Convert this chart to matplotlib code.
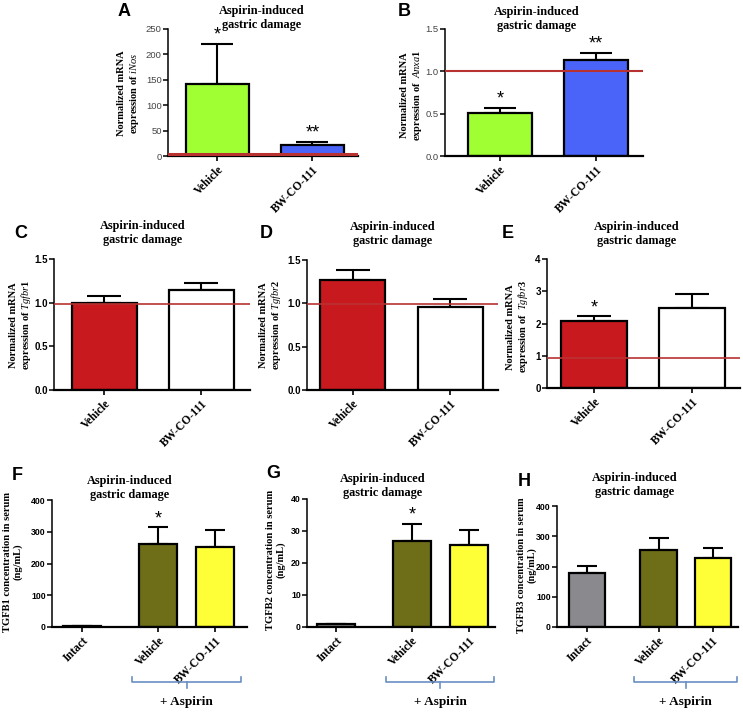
"""
Aspirin-induced gastric damage: 8 bar panels (A-H)
"""

import numpy as np
import matplotlib.pyplot as plt

plt.rcParams["font.family"] = ["Liberation Serif", "DejaVu Serif"]
plt.rcParams["mathtext.fontset"] = "custom"
plt.rcParams["mathtext.rm"] = "Liberation Serif:bold"
plt.rcParams["mathtext.it"] = "Liberation Serif:italic"

# ---- data ----
groups2 = ["Vehicle", "BW-CO-111"]
groups3 = ["Intact", "Vehicle", "BW-CO-111"]

inos_mean = [141, 22]
inos_err = [79, 5]
anxa1_mean = [0.51, 1.13]
anxa1_err = [0.06, 0.09]
tgfbr1_mean = [1.0, 1.14]
tgfbr1_err = [0.08, 0.08]
tgfbr2_mean = [1.27, 0.96]
tgfbr2_err = [0.11, 0.09]
tgfbr3_mean = [2.08, 2.48]
tgfbr3_err = [0.14, 0.42]
tgfb1_mean = [3, 261, 253]
tgfb1_err = [0, 53, 54]
tgfb2_mean = [0.8, 26.9, 25.6]
tgfb2_err = [0, 5.3, 4.7]
tgfb3_mean = [180, 254, 229]
tgfb3_err = [23, 41, 32]

# reference (normalized control) line levels
ref_level = {"A": 3, "B": 1.0, "C": 0.98, "D": 0.99, "E": 0.93}

green = "#a0ff32"
blue = "#4a64fa"
red_bar = "#c8191e"
olive = "#6e6e19"
yellow = "#ffff37"
grey = "#8a8a8e"
line_red = "#b93232"
bracket_blue = "#6b8fc4"

W, H = 743, 715
fig = plt.figure(figsize=(W / 100, H / 100), dpi=100)


def px_axes(left, top, right, bottom):
    ax = fig.add_axes([left / W, 1 - bottom / H, (right - left) / W, (bottom - top) / H])
    ax.px_height = bottom - top
    return ax


def style(ax, yticks, bold_ticks=True, tick_size=7):
    for s in ["top", "right"]:
        ax.spines[s].set_visible(False)
    ax.spines["left"].set_linewidth(1.1)
    ax.spines["bottom"].set_linewidth(1.6)
    ax.set_yticks(yticks)
    ax.set_ylim(yticks[0], yticks[-1])
    ax.tick_params(axis="y", length=3.5, width=1.1, pad=1)
    ax.tick_params(axis="x", length=3.5, width=1.2, pad=2)
    for lab in ax.get_yticklabels():
        lab.set_family("Liberation Sans")
        lab.set_fontsize(tick_size)
        lab.set_fontweight("bold" if bold_ticks else "normal")
        if not bold_ticks:
            lab.set_color("#444444")


def bars(ax, pos, means, errs, colors, width, cap):
    ax.bar(pos, means, width=width, color=colors, edgecolor="black", linewidth=1.6, zorder=2)
    ax.errorbar(pos, means, yerr=[np.zeros(len(errs)), errs], fmt="none",
                ecolor="black", elinewidth=1.5, capsize=cap, capthick=1.5, zorder=1)


def xlabels(ax, pos, labels):
    ax.set_xticks(pos)
    ax.set_xticklabels(labels, rotation=45, ha="right", rotation_mode="anchor",
                       fontsize=8.4, fontweight="bold")


def star(ax, x, y, text, pad):
    ax.text(x, y + pad, text, ha="center", va="bottom", family="Liberation Sans",
            fontsize=13, zorder=4)


def title(cx, cy):
    fig.text(cx / W, 1 - cy / H, "Aspirin-induced\ngastric damage", ha="center", va="center",
             fontsize=8.8, fontweight="bold", linespacing=1.15)


def letter(x, y, s):
    fig.text(x / W, 1 - y / H, s, ha="left", va="center", family="Liberation Sans",
             fontsize=13, fontweight="bold")


def ylab(cx, cy, s, size=7.5):
    fig.text(cx / W, 1 - cy / H, s, ha="center", va="center", rotation=90,
             fontsize=size, fontweight="bold", linespacing=1.15)


pos2 = np.arange(2)
pos3 = np.array([0, 1.33, 2.33])

# ---- A ----
ax = px_axes(168, 29, 358, 156)
bars(ax, pos2, inos_mean, inos_err, [green, blue], 0.67, 11.5)
ax.axhline(ref_level["A"], color=line_red, lw=2.2, zorder=3)
ax.set_xlim(-0.52, 1.48)
style(ax, [0, 50, 100, 150, 200, 250], bold_ticks=False, tick_size=6.8)
xlabels(ax, pos2, groups2)
star(ax, 0, inos_mean[0] + inos_err[0], "*", 1)
star(ax, 1, inos_mean[1] + inos_err[1], "**", 1)
title(262, 18)
letter(118, 12, "A")
ylab(129, 93, "Normalized mRNA\nexpression of $\\mathit{iNos}$")

# ---- B ----
ax = px_axes(445, 29, 643, 156)
bars(ax, pos2, anxa1_mean, anxa1_err, [green, blue], 0.67, 11.5)
ax.axhline(ref_level["B"], color=line_red, lw=1.5, zorder=3)
ax.set_xlim(-0.57, 1.49)
style(ax, [0, 0.5, 1.0, 1.5], bold_ticks=False, tick_size=6.8)
ax.set_yticklabels(["0.0", "0.5", "1.0", "1.5"])
xlabels(ax, pos2, groups2)
star(ax, 0, anxa1_mean[0] + anxa1_err[0], "*", 0.0)
star(ax, 1, anxa1_mean[1] + anxa1_err[1], "**", 0.0)
title(537, 19)
letter(398, 12, "B")
ylab(412, 95, "Normalized mRNA\nexpression of  $\\mathit{Anxa1}$")

# ---- C ----
ax = px_axes(54, 259, 250, 390)
bars(ax, pos2, tgfbr1_mean, tgfbr1_err, [red_bar, "white"], 0.67, 12)
ax.axhline(ref_level["C"], color=line_red, lw=1.2, zorder=3)
ax.set_xlim(-0.52, 1.5)
style(ax, [0, 0.5, 1.0, 1.5])
ax.set_yticklabels(["0.0", "0.5", "1.0", "1.5"])
xlabels(ax, pos2, groups2)
title(143, 233)
letter(14, 234, "C")
ylab(21, 325, "Normalized mRNA\nexpression of $\\mathit{Tgfbr1}$")

# ---- D ----
ax = px_axes(307, 260, 498, 390)
bars(ax, pos2, tgfbr2_mean, tgfbr2_err, [red_bar, "white"], 0.67, 12)
ax.axhline(ref_level["D"], color=line_red, lw=1.2, zorder=3)
ax.set_xlim(-0.47, 1.49)
style(ax, [0, 0.5, 1.0, 1.5])
ax.set_yticklabels(["0.0", "0.5", "1.0", "1.5"])
xlabels(ax, pos2, groups2)
title(393, 234)
letter(260, 234, "D")
ylab(271, 325, "Normalized mRNA\nexpression of $\\mathit{Tgfbr2}$")

# ---- E ----
ax = px_axes(547, 259, 740, 388)
bars(ax, pos2, tgfbr3_mean, tgfbr3_err, [red_bar, "white"], 0.67, 12)
ax.axhline(ref_level["E"], color=line_red, lw=1.2, zorder=3)
ax.set_xlim(-0.48, 1.49)
style(ax, [0, 1, 2, 3, 4])
xlabels(ax, pos2, groups2)
star(ax, 0, tgfbr3_mean[0] + tgfbr3_err[0], "*", 0.0)
title(637, 234)
letter(502, 234, "E")
ylab(518, 327, "Normalized mRNA\nexpression of  $\\mathit{Tgfbr3}$")


# ---- F, G, H ----
def bracket(ax):
    # bracket and label sit a fixed number of pixels below the axis
    h = ax.px_height
    y_end, y_bar, y_mid, y_txt = -50 / h, -55 / h, -61 / h, -75 / h
    trans = ax.get_xaxis_transform()
    x0, x1 = pos3[1] - 0.45, pos3[2] + 0.45
    xm = (pos3[1] + pos3[2]) / 2
    ax.plot([x0, x0, x1, x1], [y_end, y_bar, y_bar, y_end], transform=trans,
            color=bracket_blue, lw=1.2, clip_on=False)
    ax.plot([xm, xm], [y_bar, y_mid], transform=trans, color=bracket_blue, lw=1.2,
            clip_on=False)
    ax.text(xm, y_txt, "+ Aspirin", transform=trans, ha="center", va="center",
            fontsize=9.5, fontweight="bold")


ax = px_axes(52, 500, 247, 627)
bars(ax, pos3, tgfb1_mean, tgfb1_err, [grey, olive, yellow], 0.67, 7)
ax.set_xlim(-0.53, 2.89)
style(ax, [0, 100, 200, 300, 400], tick_size=6.3)
xlabels(ax, pos3, groups3)
star(ax, pos3[1], tgfb1_mean[1] + tgfb1_err[1], "*", 0)
bracket(ax)
title(130, 488)
letter(12, 475, "F")
ylab(13, 562, "TGFB1 concentration in serum\n(ng/mL)", 7.6)

ax = px_axes(307, 499, 495, 627)
bars(ax, pos3, tgfb2_mean, tgfb2_err, [grey, olive, yellow], 0.67, 7)
ax.set_xlim(-0.51, 2.79)
style(ax, [0, 10, 20, 30, 40], tick_size=6.3)
xlabels(ax, pos3, groups3)
star(ax, pos3[1], tgfb2_mean[1] + tgfb2_err[1], "*", 0)
bracket(ax)
title(383, 486)
letter(266, 474, "G")
ylab(276, 560, "TGFB2 concentration in serum\n(ng/mL)", 7.6)

ax = px_axes(557, 506, 738, 627)
bars(ax, pos3, tgfb3_mean, tgfb3_err, [grey, olive, yellow], 0.67, 7)
ax.set_xlim(-0.55, 2.8)
style(ax, [0, 100, 200, 300, 400], tick_size=6.3)
xlabels(ax, pos3, groups3)
bracket(ax)
title(635, 485)
letter(518, 482, "H")
ylab(527, 565, "TGFB3 concentration in serum\n(ng/mL)", 7.3)

fig.savefig("out.png", dpi=100)
